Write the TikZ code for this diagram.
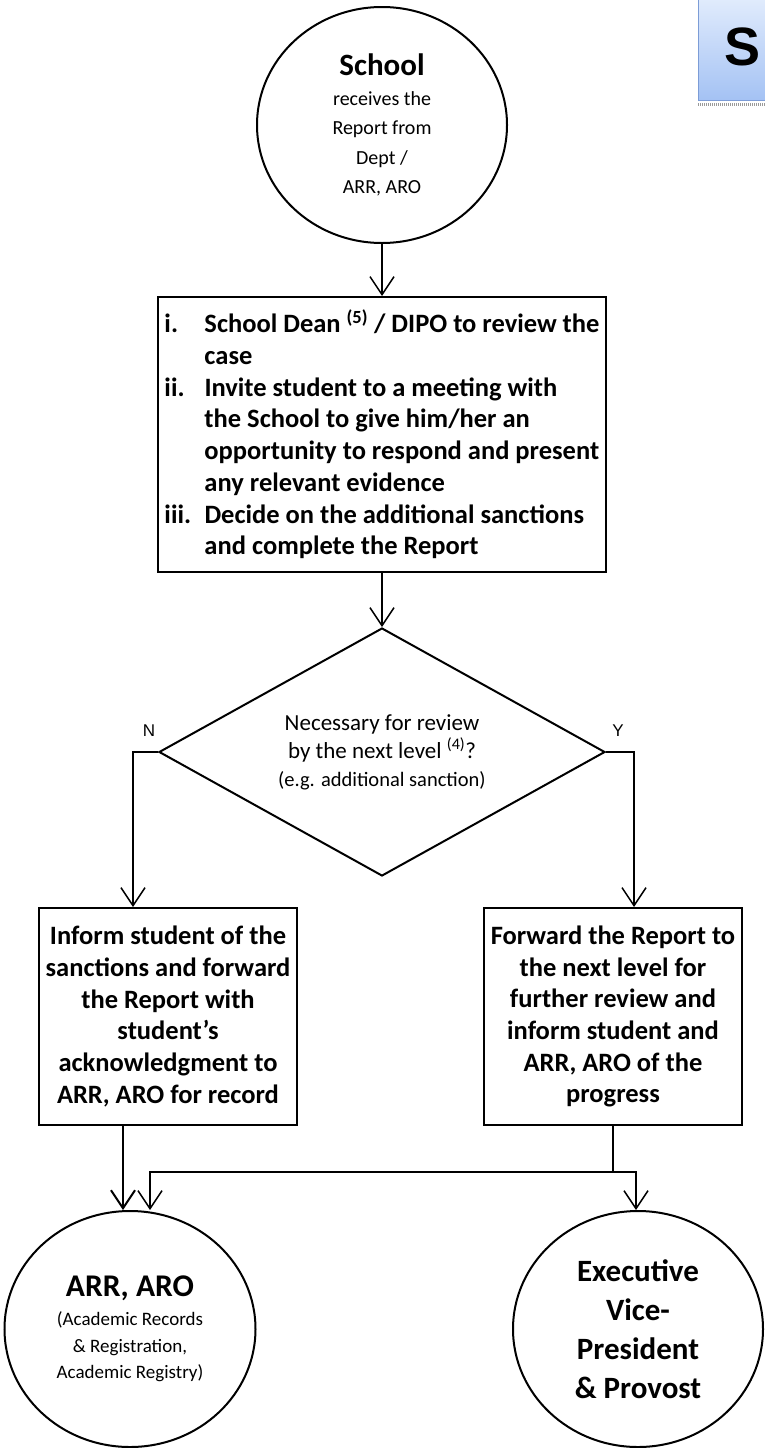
\documentclass[tikz,border=0pt]{standalone}
\usepackage{fontspec}
\setmainfont{Carlito}
\newfontfamily\arialfont{Liberation Sans}
\usetikzlibrary{shapes.geometric,arrows.meta}
\definecolor{sTop}{HTML}{E3EDFD}
\definecolor{sBot}{HTML}{A4C2F4}
\definecolor{sBorder}{HTML}{7C9CD6}
\definecolor{sShadow}{HTML}{9A9A9A}
\newcommand\lab[1]{\makebox[40pt][l]{#1}}
\newcommand\cont{\hspace*{40pt}}
\begin{document}
\begin{tikzpicture}[x=1pt,y=-1pt,
  shapeline/.style={draw=black, line width=2pt},
  roundnode/.style={shapeline, ellipse, inner sep=0pt, align=center},
  stepbox/.style={shapeline, rectangle, inner sep=6pt, font=\fontsize{26.5}{31.7}\selectfont\bfseries},
  conn/.style={line width=1.5pt},
  arr/.style={conn, -{Straight Barb[length=18pt,width=24pt]}},
  lbl/.style={font=\arialfont\fontsize{17}{19}\selectfont}
]
\useasboundingbox (0,0) rectangle (765,1448);

% corner tab
\shade[top color=sTop, bottom color=sBot, draw=sBorder, line width=1pt] (698,-5) rectangle (775,100);
\draw[sShadow, line width=3pt, dash pattern=on 1pt off 1pt] (698,104.5) -- (765,104.5);
\node[font=\arialfont\bfseries\fontsize{54}{60}\selectfont] (sletter) at (742,47) {S};

% nodes
\node[roundnode, minimum width=250pt, minimum height=236pt, font=\fontsize{20}{29.5}\selectfont] (school) at (382,125)
  {{\fontsize{31}{29.5}\selectfont\bfseries School}\\receives the\\Report from\\Dept /\\ARR, ARO};

\node[stepbox, minimum width=446pt, minimum height=275pt, align=left] (review) at (382,434.5)
  {\lab{i.}School Dean \textsuperscript{(5)} / DIPO to review the\\
   \cont case\\
   \lab{ii.}Invite student to a meeting with\\
   \cont the School to give him/her an\\
   \cont opportunity to respond and present\\
   \cont any relevant evidence\\
   \lab{iii.}Decide on the additional sanctions\\
   \cont and complete the Report};

\node[shapeline, diamond, aspect=1.8, minimum width=446pt, minimum height=248pt, inner sep=0pt, align=center,
      font=\fontsize{23}{28}\selectfont] (dec) at (382,752)
  {Necessary for review\\ by the next level \textsuperscript{(4)}?\\{\fontsize{20.5}{28}\selectfont (e.g. additional sanction)}};

\node[stepbox, minimum width=258pt, minimum height=217pt, align=center] (inform) at (168,1016.5)
  {Inform student of the\\sanctions and forward\\the Report with\\student’s\\acknowledgment to\\ARR, ARO for record};

\node[stepbox, minimum width=258pt, minimum height=217pt, align=center] (forward) at (613,1016.5)
  {Forward the Report to\\the next level for\\further review and\\inform student and\\ARR, ARO of the\\progress};

\node[roundnode, minimum width=251pt, minimum height=236pt, font=\fontsize{19}{26.7}\selectfont] (arro) at (130,1329)
  {{\fontsize{31.6}{34}\selectfont\bfseries ARR, ARO}\\[2pt](Academic Records\\\& Registration,\\Academic Registry)};

\node[roundnode, minimum width=250pt, minimum height=236pt, font=\fontsize{31}{39}\selectfont\bfseries] (evp) at (638,1329)
  {Executive\\Vice-\\President\\\& Provost};

% labels
\node[lbl] (nlab) at (149,731) {N};
\node[lbl] (ylab) at (618,731) {Y};

% connectors
\coordinate (nturn) at (133,752);
\coordinate (yturn) at (634,752);
\coordinate (lout) at (123,0);
\coordinate (rjoin) at (613,1172);
\coordinate (hleft) at (150,1172);
\coordinate (hright) at (636,1172);

\draw[arr] (school.south) -- (review.north);
\draw[arr] (review.south) -- (dec.north);
\draw[arr] (dec.west) -- (nturn) -- (nturn |- inform.north);
\draw[arr] (dec.east) -- (yturn) -- (yturn |- forward.north);
\draw[arr, line width=2pt] (lout |- inform.south) -- (lout |- arro.north);
\draw[conn] (forward.south) -- (rjoin);
\draw[arr] (rjoin) -- (hleft) -- (hleft |- arro.north);
\draw[arr] (rjoin) -- (hright) -- (hright |- evp.north);
\end{tikzpicture}
\end{document}
